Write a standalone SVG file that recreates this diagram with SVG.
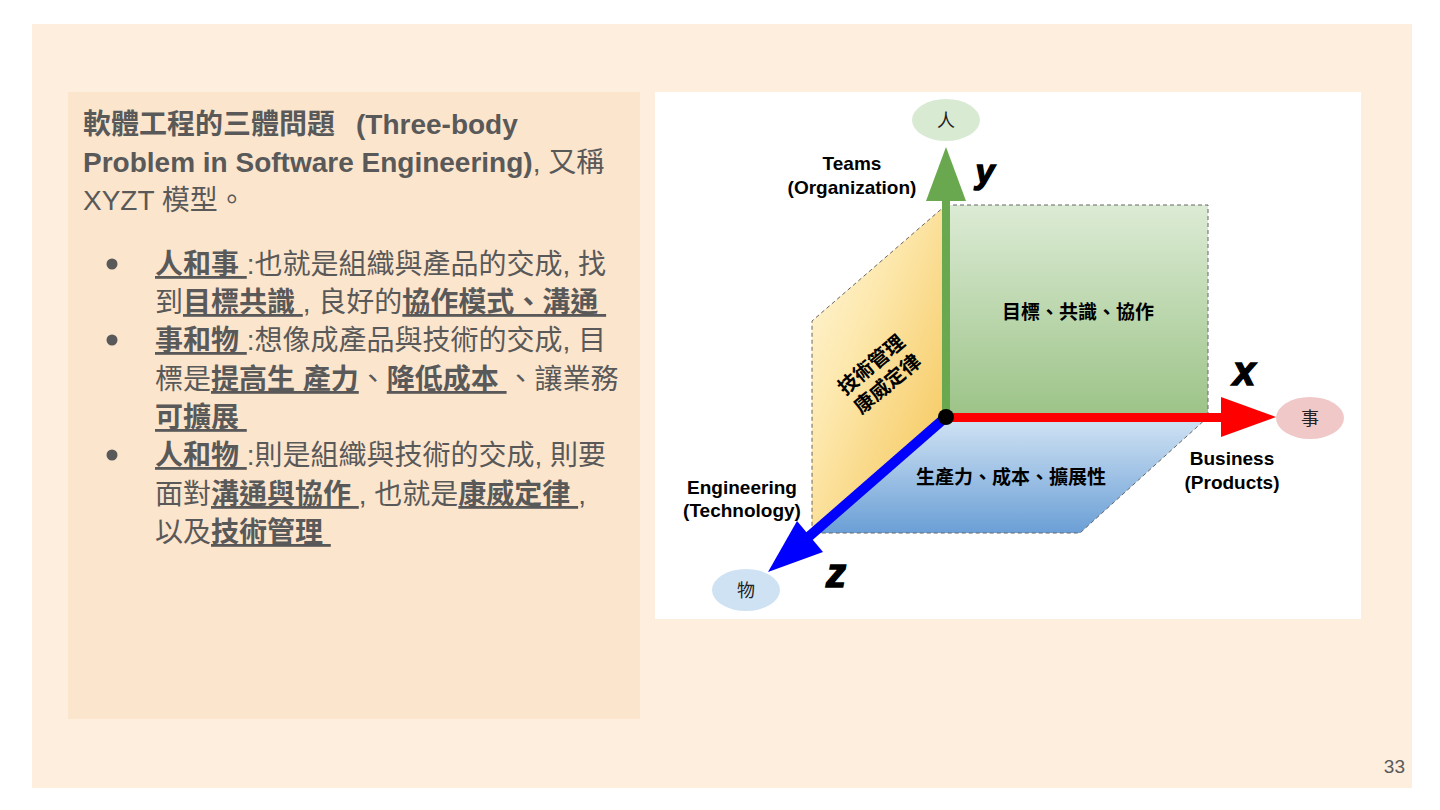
<svg xmlns="http://www.w3.org/2000/svg" width="1440" height="810" viewBox="0 0 1440 810">
<defs>
<style>
.t{font-family:"Liberation Sans","Noto Sans CJK TC",sans-serif;font-size:28px;fill:#595959;white-space:pre}
.b{font-weight:bold}
.bu{font-weight:bold;text-decoration:underline}
.lbl{font-family:"Liberation Sans","Noto Sans CJK TC",sans-serif;font-size:19px;font-weight:bold;fill:#000;text-anchor:middle}
.cj{font-family:"Noto Sans CJK TC","Liberation Sans",sans-serif;font-size:19px;font-weight:bold;fill:#000;text-anchor:middle}
.el{font-family:"Noto Sans CJK TC",sans-serif;font-size:18px;fill:#222;text-anchor:middle}
.ax{font-family:"Liberation Sans",sans-serif;font-weight:bold;font-style:italic;fill:#000;stroke:#000;stroke-width:1.5;text-anchor:middle}
.dash{fill:none;stroke:#666;stroke-width:1;stroke-dasharray:4 3}
</style>
<linearGradient id="gGreen" x1="0" y1="0" x2="0" y2="1"><stop offset="0" stop-color="#dcebd5"/><stop offset="1" stop-color="#9cc387"/></linearGradient>
<linearGradient id="gBlue" x1="0" y1="0" x2="0" y2="1"><stop offset="0" stop-color="#d2e4f4"/><stop offset="1" stop-color="#6b9fd6"/></linearGradient>
<linearGradient id="gYellow" x1="0" y1="0" x2="1" y2="1"><stop offset="0" stop-color="#fff6dc"/><stop offset="0.35" stop-color="#fde9b0"/><stop offset="1" stop-color="#f4c24f"/></linearGradient>
</defs>
<rect x="0" y="0" width="1440" height="810" fill="#ffffff"/>
<rect x="32" y="24" width="1380" height="764" fill="#fdeede"/>
<g id="textpanel">
<rect x="68" y="92" width="572" height="627" fill="#fce5cd"/>
<text class="t" x="83" y="134" xml:space="preserve"><tspan class="b">軟體工程的三體問題</tspan><tspan class="b" x="356">(Three-body</tspan></text>
<text class="t" x="83" y="172" xml:space="preserve"><tspan class="b">Problem in Software Engineering)</tspan>, 又稱</text>
<text class="t" x="83" y="210" xml:space="preserve">XYZT 模型。</text>
<circle cx="112" cy="264" r="5.5" fill="#595959"/>
<circle cx="112" cy="340" r="5.5" fill="#595959"/>
<circle cx="112" cy="455" r="5.5" fill="#595959"/>
<text class="t" x="155" y="274" xml:space="preserve"><tspan class="bu">人和事 </tspan>:也就是組織與產品的交成, 找</text>
<text class="t" x="155" y="312" xml:space="preserve">到<tspan class="bu">目標共識 </tspan>, 良好的<tspan class="bu">協作模式、溝通 </tspan></text>
<text class="t" x="155" y="350" xml:space="preserve"><tspan class="bu">事和物 </tspan>:想像成產品與技術的交成, 目</text>
<text class="t" x="155" y="389" xml:space="preserve">標是<tspan class="bu">提高生 產力</tspan>、<tspan class="bu">降低成本 </tspan>、讓業務</text>
<text class="t" x="155" y="427" xml:space="preserve"><tspan class="bu">可擴展 </tspan></text>
<text class="t" x="155" y="465" xml:space="preserve"><tspan class="bu">人和物 </tspan>:則是組織與技術的交成, 則要</text>
<text class="t" x="155" y="504" xml:space="preserve">面對<tspan class="bu">溝通與協作 </tspan>, 也就是<tspan class="bu">康威定律 </tspan>,</text>
<text class="t" x="155" y="542" xml:space="preserve">以及<tspan class="bu">技術管理 </tspan></text>
</g>
<rect x="655" y="92" width="706" height="527" fill="#ffffff"/>
<g id="plane-yz">
<polygon points="946,205 946,417 812,533 812,321" fill="url(#gYellow)"/>
<polyline class="dash" points="946,205 812,321 812,533"/>
<g transform="translate(879,374) rotate(-40)">
<text class="cj" x="0" y="-5" style="font-size:20px">技術管理</text>
<text class="cj" x="0" y="20" style="font-size:20px">康威定律</text>
</g>
</g>
<g id="plane-xy">
<rect x="946" y="205" width="262" height="212" fill="url(#gGreen)"/>
<polyline class="dash" points="946,205 1208,205 1208,417"/>
<text class="cj" x="1078" y="319">目標、共識、協作</text>
</g>
<g id="plane-xz">
<polygon points="946,417 1208,417 1080,533 813,533" fill="url(#gBlue)"/>
<polyline class="dash" points="1208,417 1080,533 813,533"/>
<text class="cj" x="1011" y="484">生產力、成本、擴展性</text>
</g>
<g id="connectors">
<rect x="942" y="199" width="8" height="218" fill="#6aa84f"/>
<polygon points="926,201 946,147 966,201" fill="#6aa84f"/>
<rect x="946" y="413" width="278" height="9" fill="#ff0000"/>
<polygon points="1221,397 1276,417 1221,437" fill="#ff0000"/>
<line x1="946" y1="417" x2="805" y2="540" stroke="#0000ff" stroke-width="10"/>
<polygon points="768,572 823,552 797,521" fill="#0000ff"/>
<circle cx="946" cy="417" r="8" fill="#000"/>
</g>
<g id="node-people">
<ellipse cx="946" cy="120" rx="34" ry="21" fill="#d9ead3"/>
<text class="el" x="946" y="127">人</text>
</g>
<g id="node-business">
<ellipse cx="1310" cy="418" rx="34" ry="21" fill="#f0c8c8"/>
<text class="el" x="1310" y="425">事</text>
</g>
<g id="node-things">
<ellipse cx="746" cy="590" rx="34" ry="21" fill="#cfe2f3"/>
<text class="el" x="746" y="597">物</text>
</g>
<g id="labels">
<text class="lbl" x="852" y="170">Teams</text>
<text class="lbl" x="852" y="194">(Organization)</text>
<text class="lbl" x="742" y="494">Engineering</text>
<text class="lbl" x="742" y="517">(Technology)</text>
<text class="lbl" x="1232" y="465">Business</text>
<text class="lbl" x="1232" y="489">(Products)</text>
<text class="ax" x="985" y="183" style="font-size:34px">y</text>
<text class="ax" x="1244" y="385" style="font-size:40px">x</text>
<text class="ax" x="836" y="587" style="font-size:40px">z</text>
</g>
<text x="1405" y="773" text-anchor="end" style="font-family:'Liberation Sans',sans-serif;font-size:19px;fill:#595959">33</text>
</svg>
